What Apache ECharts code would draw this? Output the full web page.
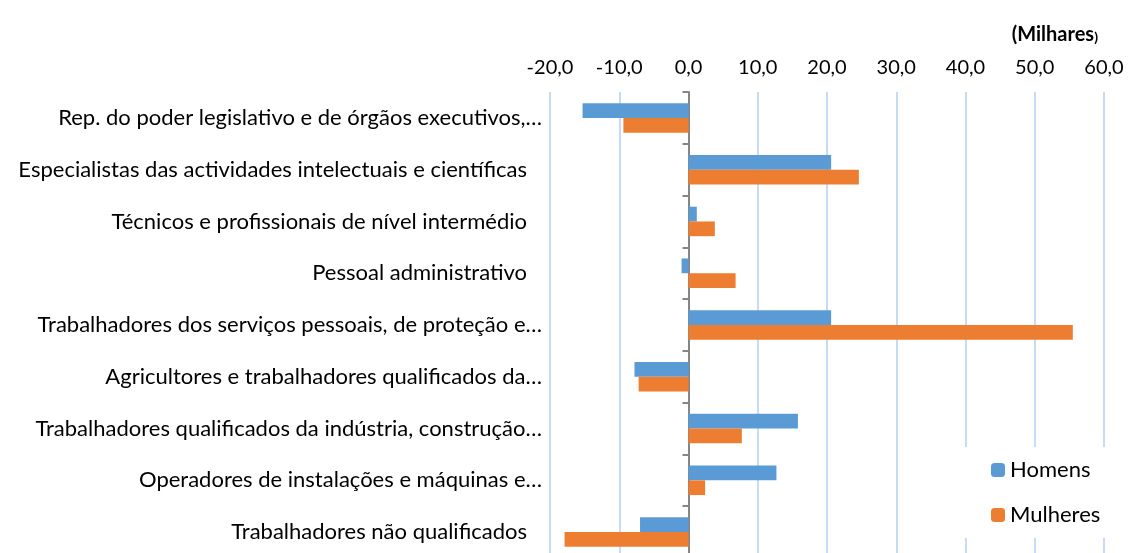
<!DOCTYPE html>
<html>
<head>
<meta charset="utf-8">
<title>Milhares</title>
<script src="https://cdn.jsdelivr.net/npm/echarts@6/dist/echarts.min.js"></script>
<style>
	html, body { margin: 0; padding: 0; background: #ffffff; overflow: hidden; }
	/* a área do gráfico continua um pouco abaixo da janela, como no original */
	#myChart { width: 1131px; height: 560px; }
</style>
</head>
<body>
<div id="myChart"></div>
<script>
	// categorias (de cima para baixo)
	var categories = [
		'Rep. do poder legislativo e de órgãos executivos,…',
		'Especialistas das actividades intelectuais e científicas',
		'Técnicos e profissionais de nível intermédio',
		'Pessoal administrativo',
		'Trabalhadores dos serviços pessoais, de proteção e…',
		'Agricultores e trabalhadores qualificados da…',
		'Trabalhadores qualificados da indústria, construção…',
		'Operadores de instalações e máquinas e…',
		'Trabalhadores não qualificados'
	];
	var seriesNames = ['Homens', 'Mulheres'];
	var homens = [-15.3, 20.6, 1.2, -1.0, 20.6, -7.8, 15.8, 12.7, -7.0];
	var mulheres = [-9.4, 24.6, 3.8, 6.8, 55.5, -7.2, 7.7, 2.4, -17.9];
	var xTicks = [-20, -10, 0, 10, 20, 30, 40, 50, 60];

	var font = 'Lato, "Open Sans", sans-serif';
	var myChart = echarts.init(document.getElementById('myChart'));
	myChart.setOption({
		animation: false,
		color: ['#5B9BD5', '#ED7D31'],
		textStyle: { fontFamily: font },
		title: {
			text: '{b|(Milhares}{s|)}',
			right: 28,
			top: 20,
			textStyle: {
				rich: {
					b: { fontFamily: font, fontSize: 20, fontWeight: 'bold', color: '#000' },
					s: { fontFamily: font, fontSize: 14, fontWeight: 'bold', color: '#000', padding: [5, 0, 0, 0] }
				}
			}
		},
		legend: {
			data: seriesNames,
			orient: 'vertical',
			left: 955,
			top: 447,
			height: 100,
			padding: [12, 12, 12, 36],
			itemGap: 23,
			itemWidth: 14,
			itemHeight: 14,
			backgroundColor: '#ffffff',
			textStyle: { fontFamily: font, fontSize: 22, lineHeight: 20, color: '#000' }
		},
		grid: {
			left: 550,
			top: 92,
			width: 554,
			height: 466,
			containLabel: false
		},
		xAxis: {
			type: 'value',
			position: 'top',
			min: xTicks[0],
			max: xTicks[xTicks.length - 1],
			interval: 10,
			axisLine: { show: false },
			axisTick: { show: false },
			axisLabel: {
				margin: 14,
				fontSize: 20,
				color: '#000',
				fontFamily: font,
				formatter: function (v) { return v.toFixed(1).replace('.', ','); }
			},
			splitLine: { lineStyle: { color: '#B4CFF0', width: 1.5 } }
		},
		yAxis: [
			{
				type: 'category',
				inverse: true,
				data: categories,
				axisLine: { show: false, onZero: false },
				axisTick: { show: false },
				axisLabel: {
					margin: 8,
					fontSize: 22,
					color: '#000',
					fontFamily: font,
					formatter: function (v) {
						return v.charAt(v.length - 1) === '…' ? v : '{p|' + v + '}';
					},
					rich: { p: { fontSize: 22, fontFamily: font, color: '#000', padding: [0, 15, 0, 0] } }
				}
			},
			{
				type: 'category',
				inverse: true,
				position: 'left',
				data: categories,
				axisLine: { show: true, onZero: true, lineStyle: { color: '#868686', width: 2 } },
				axisTick: { show: true, length: 6, lineStyle: { color: '#868686', width: 2 } },
				axisLabel: { show: false }
			}
		],
		series: [
			{
				name: seriesNames[0],
				type: 'bar',
				yAxisIndex: 0,
				barGap: '0%',
				barCategoryGap: '43%',
				data: homens
			},
			{
				name: seriesNames[1],
				type: 'bar',
				yAxisIndex: 0,
				data: mulheres
			}
		]
	});
</script>
</body>
</html>
